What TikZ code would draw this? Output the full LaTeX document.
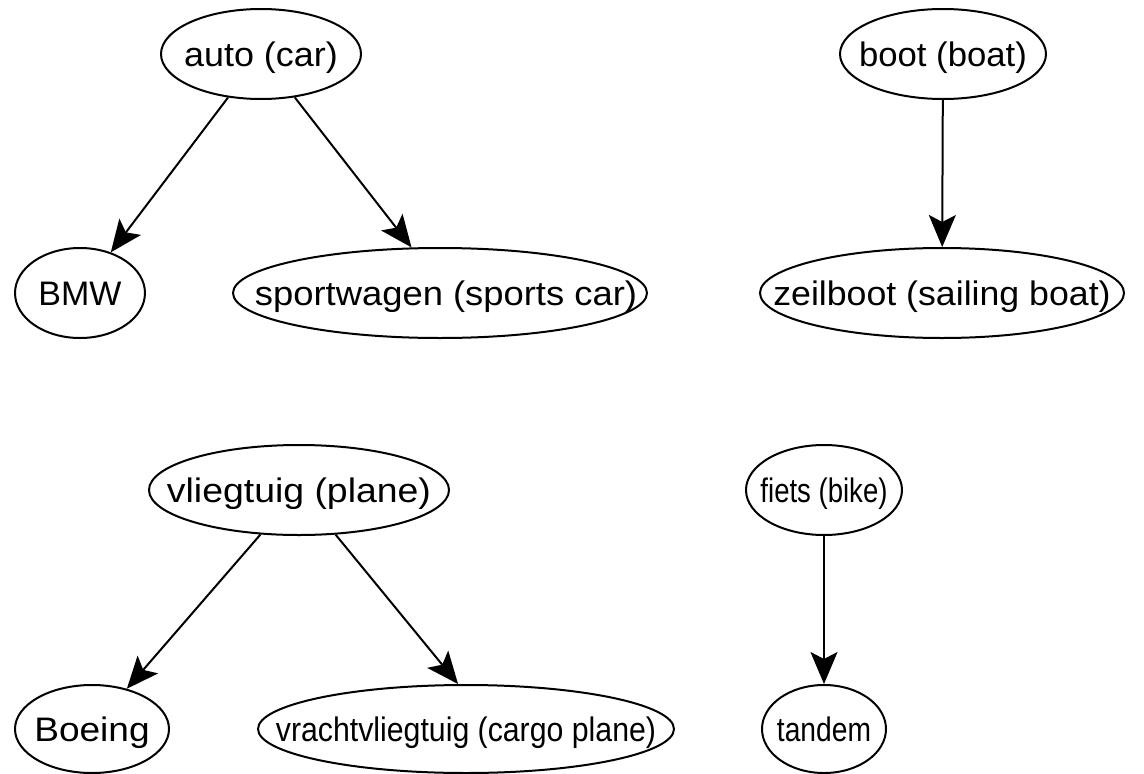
\documentclass[tikz,border=0pt]{standalone}
\usepackage{fontspec}
\usepackage{graphicx}
\setmainfont{Liberation Sans}
\usetikzlibrary{shapes.geometric,arrows.meta}
\newcommand{\lbl}[3][0pt]{\raisebox{-0.358em}[0pt][0pt]{\makebox[0pt]{\hspace{#1}\scalebox{#2}[1]{#3}}}}
\begin{document}
\begin{tikzpicture}[x=1pt,y=-1pt,
  nd/.style={ellipse,draw,line width=2pt,inner sep=0pt,font=\fontsize{34}{40}\selectfont},
  arr/.style={line width=2pt,-{Stealth[length=32pt,width=27pt,inset=7pt]}}]
\useasboundingbox (0,0) rectangle (1144,774);
\node[nd,minimum width=200pt,minimum height=90pt] (auto) at (261,54) {\lbl{1.056}{auto (car)}};
\node[nd,minimum width=130pt,minimum height=90pt] (bmw) at (80,293) {\lbl{1.0}{BMW}};
\node[nd,minimum width=414pt,minimum height=90pt] (sport) at (440,293) {\lbl[12pt]{1.07}{sportwagen (sports car)}};
\node[nd,minimum width=206pt,minimum height=90pt] (boot) at (943,54) {\lbl{1.02}{boot (boat)}};
\node[nd,minimum width=364pt,minimum height=90pt] (zeil) at (942,293) {\lbl{1.05}{zeilboot (sailing boat)}};
\node[nd,minimum width=300pt,minimum height=90pt] (vlieg) at (299,490) {\lbl{1.10}{vliegtuig (plane)}};
\node[nd,minimum width=154pt,minimum height=88pt] (boeing) at (92,729) {\lbl{1.09}{Boeing}};
\node[nd,minimum width=416pt,minimum height=88pt] (vracht) at (466,729) {\lbl{0.89}{vrachtvliegtuig (cargo plane)}};
\node[nd,minimum width=156pt,minimum height=90pt] (fiets) at (824,490) {\lbl{0.81}{fiets (bike)}};
\node[nd,minimum width=124pt,minimum height=88pt] (tandem) at (824,729) {\lbl{0.83}{tandem}};
\draw[arr] (auto) -- (bmw);
\draw[arr] (auto) -- (sport.122);
\draw[arr] (boot) -- (zeil);
\draw[arr] (vlieg) -- (boeing);
\draw[arr] (vlieg) -- (vracht.100);
\draw[arr] (fiets) -- (tandem);
\end{tikzpicture}
\end{document}
